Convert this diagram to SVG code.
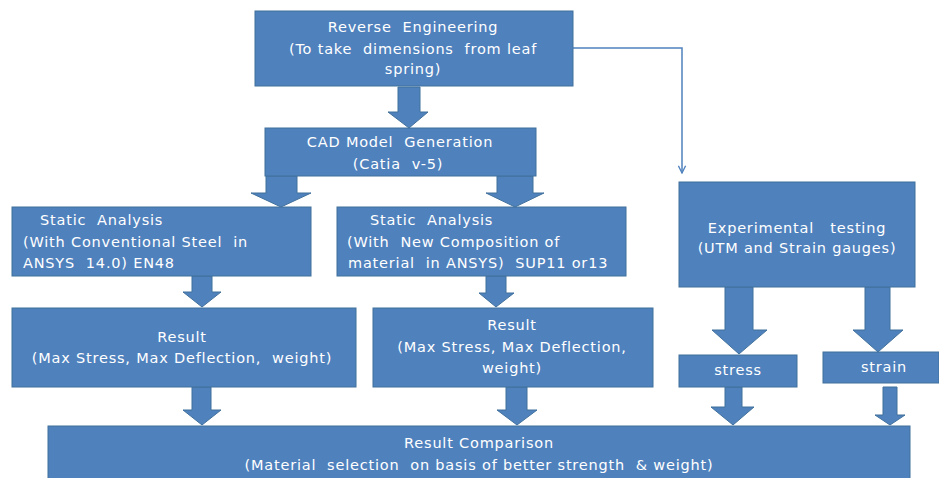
<svg xmlns="http://www.w3.org/2000/svg" width="939" height="478" viewBox="0 0 939 478" xml:space="preserve">
<defs>
<style>
.box{fill:#4F81BD;stroke:#41719C;stroke-width:1}
.arr{fill:#4F81BD;stroke:#41719C;stroke-width:1}
.t{font-family:"DejaVu Sans","Liberation Sans",sans-serif;font-size:14.5px;letter-spacing:0.8px;fill:#FFFFFF;white-space:pre}
.c{text-anchor:middle}
.ln{fill:none;stroke:#4F81BD;stroke-width:1.5}
</style>
<marker id="open" viewBox="0 0 10 10" refX="9" refY="5" markerWidth="9" markerHeight="9" orient="auto" markerUnits="userSpaceOnUse">
<path d="M1,1 L9,5 L1,9" fill="none" stroke="#4F81BD" stroke-width="1.5"/>
</marker>
</defs>
<rect width="939" height="478" fill="#FFFFFF"/>

<g id="connectors">
<path class="ln" d="M573,48 H682 V173" marker-end="url(#open)"/>
<polygon class="arr" points="398,87 420,87 420,112 428,112 409,128 388,112 398,112"/>
<polygon class="arr" points="266,176 297,176 297,193 311,193 281,207 251,193 266,193"/>
<polygon class="arr" points="497,176 533,176 533,193 544,193 515,207 486,193 497,193"/>
<polygon class="arr" points="192,276 212,276 212,292 221,292 202,307 183,292 192,292"/>
<polygon class="arr" points="486,276 506,276 506,293 514,293 496,307 479,293 486,293"/>
<polygon class="arr" points="192,387 211,387 211,410 221,410 202,425 183,410 192,410"/>
<polygon class="arr" points="506,387 527,387 527,410 537,410 517,425 497,410 506,410"/>
<polygon class="arr" points="725,287 753,287 753,330 767,330 739,354 712,330 725,330"/>
<polygon class="arr" points="865,287 890,287 890,330 903,330 878,352 853,330 865,330"/>
<polygon class="arr" points="725,387 742,387 742,407 754,407 733,425 711,407 725,407"/>
<polygon class="arr" points="883,387 897,387 897,415 905,415 890,425 875,415 883,415"/>
</g>

<g id="reverse">
<rect class="box" x="255" y="11" width="318" height="75"/>
<text class="t c" x="413" y="32">Reverse  Engineering</text>
<text class="t c" x="413" y="54">(To take  dimensions  from leaf</text>
<text class="t c" x="413" y="74">spring)</text>
</g>

<g id="cad">
<rect class="box" x="265" y="128" width="271" height="48"/>
<text class="t c" x="400" y="147">CAD Model  Generation</text>
<text class="t c" x="398" y="169">(Catia  v-5)</text>
</g>

<g id="static1">
<rect class="box" x="12" y="207" width="299" height="69"/>
<text class="t" x="40" y="225">Static  Analysis</text>
<text class="t" x="23" y="247">(With Conventional Steel  in</text>
<text class="t" x="23" y="268">ANSYS  14.0) EN48</text>
</g>

<g id="static2">
<rect class="box" x="337" y="207" width="289" height="69"/>
<text class="t" x="370" y="225">Static  Analysis</text>
<text class="t" x="347" y="247">(With  New Composition of</text>
<text class="t" x="348" y="268">material  in ANSYS)  SUP11 or13</text>
</g>

<g id="result1">
<rect class="box" x="12" y="308" width="344" height="79"/>
<text class="t c" x="182" y="342">Result</text>
<text class="t c" x="182" y="363">(Max Stress, Max Deflection,  weight)</text>
</g>

<g id="result2">
<rect class="box" x="373" y="308" width="280" height="79"/>
<text class="t c" x="512" y="330">Result</text>
<text class="t c" x="512" y="352">(Max Stress, Max Deflection,</text>
<text class="t c" x="512" y="373">weight)</text>
</g>

<g id="experimental">
<rect class="box" x="679" y="182" width="236" height="105"/>
<text class="t c" x="797" y="233">Experimental   testing</text>
<text class="t c" x="797" y="253">(UTM and Strain gauges)</text>
</g>

<g id="stress">
<rect class="box" x="679" y="355" width="118" height="32"/>
<text class="t c" x="738" y="375">stress</text>
</g>

<g id="strain">
<rect class="box" x="823" y="352" width="116" height="31"/>
<text class="t c" x="884" y="372">strain</text>
</g>

<g id="comparison">
<rect class="box" x="48" y="426" width="862" height="60"/>
<text class="t c" x="479" y="448">Result Comparison</text>
<text class="t c" x="479" y="470">(Material  selection  on basis of better strength  &amp; weight)</text>
</g>
</svg>
